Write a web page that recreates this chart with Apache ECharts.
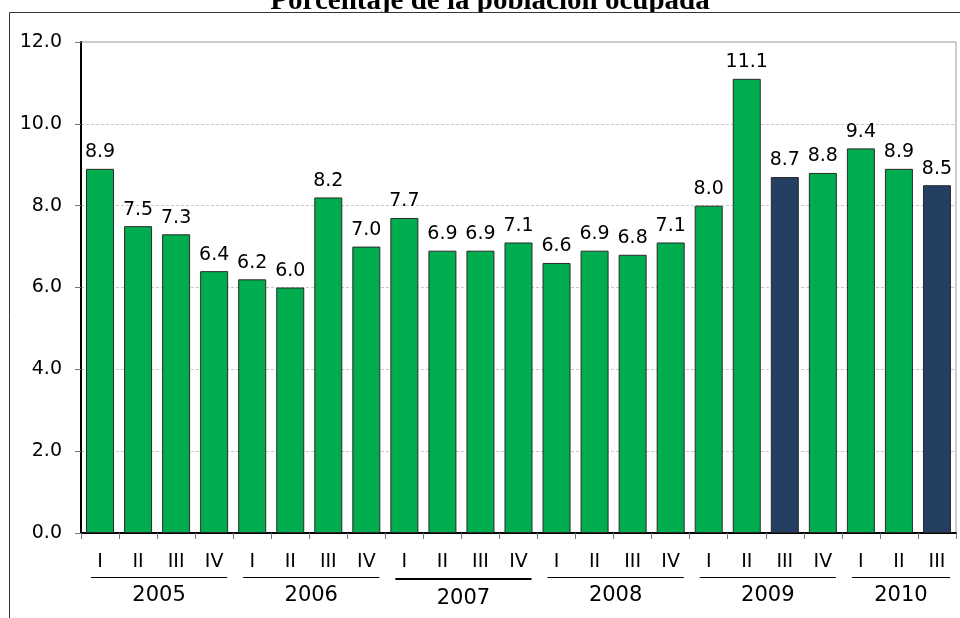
<!DOCTYPE html>
<html lang="es">
<head>
  <meta charset="UTF-8" />
  <title>Porcentaje de la población ocupada</title>
  <script src="https://cdn.jsdelivr.net/npm/echarts@6.0.0/dist/echarts.min.js"></script>
  <style>
    html, body { margin: 0; padding: 0; background: #fff; }
    #chart { width: 960px; height: 618px; }
  </style>
</head>
<body>
  <div id="chart"></div>
  <script>
    // datos
    const quarters = ['I', 'II', 'III', 'IV', 'I', 'II', 'III', 'IV', 'I', 'II', 'III', 'IV',
      'I', 'II', 'III', 'IV', 'I', 'II', 'III', 'IV', 'I', 'II', 'III'];
    const values = [8.9, 7.5, 7.3, 6.4, 6.2, 6.0, 8.2, 7.0, 7.7, 6.9, 6.9, 7.1,
      6.6, 6.9, 6.8, 7.1, 8.0, 11.1, 8.7, 8.8, 9.4, 8.9, 8.5];
    const highlighted = [18, 22];   // barras azul oscuro
    const years = ['2005', '2006', '2007', '2008', '2009', '2010'];
    const yearSizes = [4, 4, 4, 4, 4, 3];

    const GREEN = '#00ad4e';
    const NAVY = '#253f62';
    const FONT = 'DejaVu Sans';

    const chart = echarts.init(document.getElementById('chart'));

    chart.setOption({
      animation: false,
      backgroundColor: '#fff',
      grid: {
        left: 81, right: 4, top: 42, bottom: 85,
        show: true, borderColor: '#9a9a9a', borderWidth: 1
      },
      xAxis: {
        type: 'category',
        data: quarters,
        axisLine: { lineStyle: { color: '#000', width: 2 } },
        axisTick: { show: true, length: 6, lineStyle: { color: '#777' } },
        axisLabel: { color: '#000', fontSize: 19, fontFamily: FONT, margin: 20 }
      },
      yAxis: {
        type: 'value',
        min: 0, max: 12, interval: 2,
        axisLine: { show: true, lineStyle: { color: '#000', width: 2 } },
        axisTick: { show: true, length: 6, lineStyle: { color: '#777' } },
        axisLabel: {
          color: '#000', fontSize: 19, fontFamily: FONT, margin: 19,
          formatter: v => v.toFixed(1)
        },
        splitLine: { lineStyle: { color: '#c8c8c8', type: [3, 2] } }
      },
      series: [{
        type: 'bar',
        barWidth: 28,
        data: values.map((v, i) => ({
          value: v,
          itemStyle: { color: highlighted.includes(i) ? NAVY : GREEN }
        })),
        itemStyle: { borderColor: '#2a2a2a', borderWidth: 1 },
        label: {
          show: true, position: 'top', distance: 7,
          color: '#000', fontSize: 19, fontFamily: FONT,
          formatter: p => p.value.toFixed(1)
        }
      }]
    });

    // años debajo del eje, con líneas de agrupación
    function drawYears() {
      const c0 = chart.convertToPixel({ xAxisIndex: 0 }, 0);
      const c1 = chart.convertToPixel({ xAxisIndex: 0 }, 1);
      const band = c1 - c0;
      const elements = [];
      let start = 0;
      years.forEach((yr, k) => {
        const x0 = c0 - band / 2 + start * band;
        const x1 = x0 + yearSizes[k] * band;
        const thick = yr === '2007';
        const ly = thick ? 579 : 577.5;
        elements.push({
          type: 'line',
          shape: { x1: x0 + 10, y1: ly, x2: x1 - 6, y2: ly },
          style: { stroke: '#000', lineWidth: thick ? 2 : 1 }
        });
        elements.push({
          type: 'text',
          x: (x0 + x1) / 2 + 2, y: thick ? 599 : 596,
          style: {
            text: yr, fill: '#000', fontSize: 21, fontFamily: FONT,
            align: 'center', verticalAlign: 'middle'
          }
        });
        start += yearSizes[k];
      });

      // título (recortado por el marco superior)
      elements.push({
        type: 'text', x: 490, y: 2, z: 1,
        style: {
          text: 'Porcentaje de la población ocupada', fill: '#000',
          fontSize: 29, fontWeight: 'bold', fontFamily: 'Liberation Serif',
          align: 'center', verticalAlign: 'middle'
        }
      });
      elements.push({
        type: 'rect', z: 2,
        shape: { x: 9, y: 12, width: 951, height: 16 },
        style: { fill: '#fff' }
      });
      // marco exterior
      elements.push({
        type: 'polyline', z: 3,
        shape: { points: [[9.5, 618], [9.5, 12.5], [960, 12.5]] },
        style: { stroke: '#333', lineWidth: 1, fill: null }
      });
      chart.setOption({ graphic: elements });
    }
    drawYears();
  </script>
</body>
</html>
